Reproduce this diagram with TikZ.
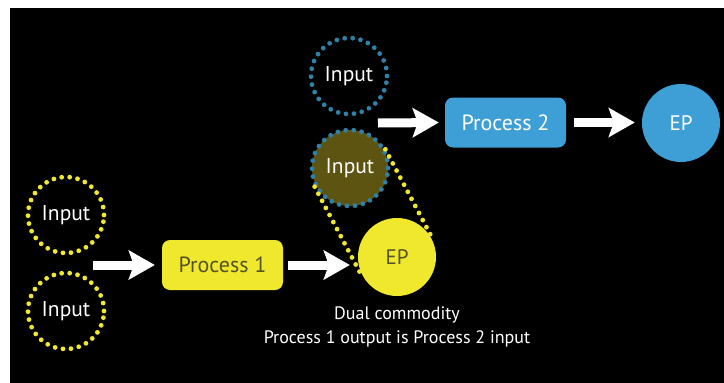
\documentclass[tikz,border=0pt]{standalone}
\usepackage{fontspec}
\setmainfont{PT Sans}
\usetikzlibrary{arrows.meta,calc}
\definecolor{yelc}{RGB}{240,232,44}
\definecolor{bluec}{RGB}{62,158,214}
\definecolor{olivec}{RGB}{92,84,16}
\definecolor{dotblue}{RGB}{48,128,168}
\definecolor{txtolive}{RGB}{85,82,40}
\tikzset{
  dotring/.style={circle, minimum size=76pt, inner sep=0pt, line width=4.8pt,
    dash pattern=on 0pt off 8pt, line cap=round, text=white, font=\fontsize{21.5}{25}\selectfont},
  procbox/.style={rounded corners=8pt, minimum width=121pt, minimum height=50pt, inner sep=0pt,
    font=\fontsize{22}{26}\selectfont},
  epcirc/.style={circle, minimum size=78pt, inner sep=0pt, font=\fontsize{21}{25}\selectfont},
  bigarrow/.style={white, line width=9pt, -{Stealth[length=26pt,width=29pt,inset=5pt]}},
  tangent/.style={yelc, line width=4.8pt, dash pattern=on 0pt off 8pt, line cap=round},
  caption/.style={text=white, align=center, font=\fontsize{18}{24}\selectfont}
}
\begin{document}
\begin{tikzpicture}[x=1pt,y=-1pt]
\useasboundingbox (0,0) rectangle (724,383);
\fill[white] (0,0) rectangle (724,383);
\fill[black] (10,8) rectangle (724,383);

% inputs left
\node[dotring, draw=yelc] (in1) at (66,215) {Input};
\node[dotring, draw=yelc] (in2) at (66,311) {Input};

% process 1
\node[procbox, fill=yelc, text=txtolive] (p1) at (222.5,265) {Process 1};

% EP yellow
\node[epcirc, fill=yelc, text=txtolive] (ep1) at (397,257) {EP};

% olive input
\node[dotring, fill=olivec, draw=dotblue] (in3) at (350,168) {Input};

% blue input
\node[dotring, draw=dotblue] (in4) at (349,76) {Input};

% process 2
\node[procbox, fill=bluec, text=white] (p2) at (505.5,122.5) {Process 2};

% EP blue
\node[epcirc, fill=bluec, text=white] (ep2) at (681,123) {EP};

% tangent dotted lines (capsule)
\draw[tangent] ($(in3.center)!40pt!90:(ep1.center)$) -- ($(ep1.center)!40pt!-90:(in3.center)$);
\draw[tangent] ($(in3.center)!40pt!-90:(ep1.center)$) -- ($(ep1.center)!40pt!90:(in3.center)$);

% arrows
\coordinate (a1s) at (93,265);
\coordinate (a3s) at (378,123);
\draw[bigarrow, shorten >=7pt] (a1s) -- (p1.west);
\draw[bigarrow, shorten <=5pt, shorten >=8pt] (p1.east) -- (p1.east -| ep1.west);
\draw[bigarrow, shorten >=6pt] (a3s) -- (p2.west);
\draw[bigarrow, shorten <=8pt, shorten >=7pt] (p2.east) -- (p2.east -| ep2.west);

% caption
\node[caption] (cap) at (397,327) {Dual commodity\\Process 1 output is Process 2 input};
\end{tikzpicture}
\end{document}
